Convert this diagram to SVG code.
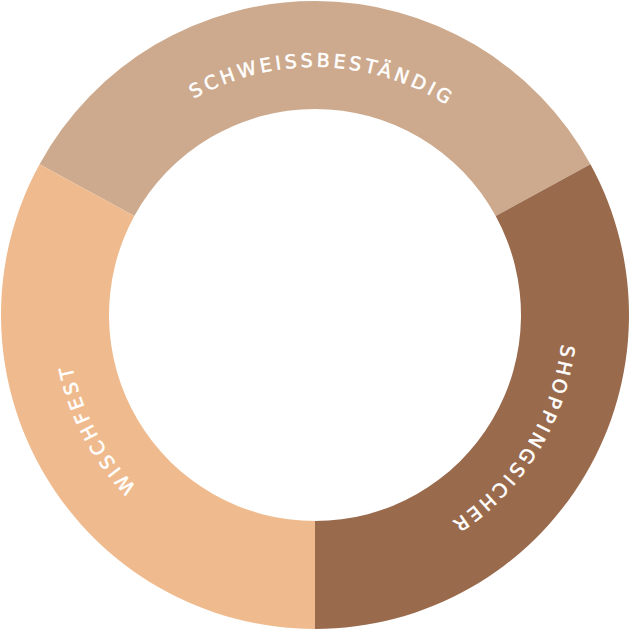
<svg xmlns="http://www.w3.org/2000/svg" xmlns:xlink="http://www.w3.org/1999/xlink" width="630" height="630" viewBox="0 0 630 630">
  <style>
    .lbl { fill: #ffffff; font-family: "DejaVu Sans", "Open Sans", "Liberation Sans", sans-serif; font-weight: 400; font-size: 19px; letter-spacing: 3.5px; stroke: #ffffff; stroke-width: 0.5px; }
  </style>
  <defs>
    <path id="arcTop" d="M 81.96 230.18 A 248 248 0 0 1 548.04 230.18" fill="none"/>
    <path id="arcRight" d="M 504.98 155.59 A 248 248 0 0 1 271.93 559.23" fill="none"/>
    <path id="arcLeft" d="M 358.07 559.23 A 248 248 0 0 1 125.02 155.59" fill="none"/>
  </defs>
  <rect width="630" height="630" fill="#ffffff"/>
  <g id="schweissbestaendig">
    <path d="M 39.58 164.21 A 314 314 0 0 1 590.42 164.21 L 495.69 216.07 A 206 206 0 0 0 134.31 216.07 Z" fill="#CDAA8D"/>
    <text class="lbl" transform="rotate(1.8 315 315)"><textPath xlink:href="#arcTop" href="#arcTop" startOffset="50%" text-anchor="middle">SCHWEISSBESTÄNDIG</textPath></text>
  </g>
  <g id="shoppingsicher">
    <path d="M 590.42 164.21 A 314 314 0 0 1 315 629 L 315 521 A 206 206 0 0 0 495.69 216.07 Z" fill="#9A6A4C"/>
    <text class="lbl" transform="rotate(2 315 315)"><textPath xlink:href="#arcRight" href="#arcRight" startOffset="50%" text-anchor="middle">SHOPPINGSICHER</textPath></text>
  </g>
  <g id="wischfest">
    <path d="M 315 629 A 314 314 0 0 1 39.58 164.21 L 134.31 216.07 A 206 206 0 0 0 315 521 Z" fill="#EFBB8E"/>
    <text class="lbl" transform="rotate(2.5 315 315)"><textPath xlink:href="#arcLeft" href="#arcLeft" startOffset="50%" text-anchor="middle">WISCHFEST</textPath></text>
  </g>
  <g id="connectors"></g>
</svg>
